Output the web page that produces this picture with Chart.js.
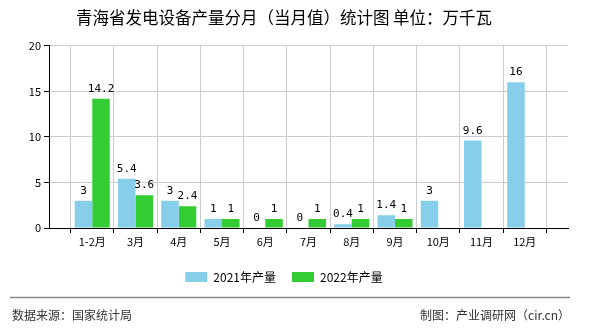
<!DOCTYPE html>
<html>
<head>
<meta charset="utf-8">
<script src="https://cdn.jsdelivr.net/npm/chart.js@4.4.0/dist/chart.umd.min.js"></script>
<style>
  html, body { margin: 0; padding: 0; background: #fff; }
  #wrap { width: 590px; height: 330px; position: relative; }
</style>
</head>
<body>
<div id="wrap"><canvas id="chart" width="590" height="330"></canvas></div>
<script>
// Data
const months = ['1-2月', '3月', '4月', '5月', '6月', '7月', '8月', '9月', '10月', '11月', '12月'];
const output2021 = [3, 5.4, 3, 1, 0, 0, 0.4, 1.4, 3, 9.6, 16];
const output2022 = [14.2, 3.6, 2.4, 1, 1, 1, 1, 1, null, null, null];
const yTicks = [0, 5, 10, 15, 20];

const cjk = "'Noto Sans CJK SC', 'Noto Sans', sans-serif";

// empty slot at both ends so the months sit on the gridlines
const labels = [''].concat(months, ['']);
const pad = arr => [null].concat(arr, [null]);

// value labels above bars
const valueLabels = {
    id: 'valueLabels',
    afterDatasetsDraw(chart) {
        const ctx = chart.ctx;
        ctx.save();
        ctx.font = "11px 'DejaVu Sans Mono', monospace";
        ctx.fillStyle = '#000';
        ctx.textAlign = 'center';
        ctx.textBaseline = 'alphabetic';
        chart.data.datasets.forEach((ds, i) => {
            chart.getDatasetMeta(i).data.forEach((bar, j) => {
                const v = ds.data[j];
                if (v === null || v === undefined) return;
                ctx.fillText(String(v), bar.x, bar.y - 7);
            });
        });
        ctx.restore();
    }
};

// footer line and source texts
const footer = {
    id: 'footer',
    afterDraw(chart) {
        const ctx = chart.ctx;
        ctx.save();
        ctx.strokeStyle = '#888';
        ctx.lineWidth = 1.5;
        ctx.beginPath();
        ctx.moveTo(10, 297.5);
        ctx.lineTo(570, 297.5);
        ctx.stroke();
        ctx.font = '12px ' + cjk;
        ctx.fillStyle = '#333';
        ctx.textBaseline = 'middle';
        ctx.textAlign = 'left';
        ctx.fillText('数据来源：国家统计局', 12, 315);
        ctx.textAlign = 'right';
        ctx.fillText('制图：产业调研网（cir.cn）', 570, 315);
        ctx.restore();
    }
};

new Chart(document.getElementById('chart'), {
    type: 'bar',
    data: {
        labels: labels,
        datasets: [
            {
                label: '2021年产量',
                data: pad(output2021),
                backgroundColor: '#87CEEB',
                categoryPercentage: 0.81,
                barPercentage: 1
            },
            {
                label: '2022年产量',
                data: pad(output2022),
                backgroundColor: '#33CC33',
                categoryPercentage: 0.81,
                barPercentage: 1
            }
        ]
    },
    options: {
        responsive: false,
        animation: false,
        layout: { padding: { left: 0, right: 22, bottom: 37 } },
        plugins: {
            title: {
                display: true,
                text: '青海省发电设备产量分月（当月值）统计图 单位：万千瓦',
                color: '#000',
                font: { family: cjk, size: 16.5, weight: 'normal' },
                padding: { top: 8, bottom: 18 }
            },
            legend: {
                position: 'bottom',
                labels: {
                    boxWidth: 22,
                    boxHeight: 10,
                    padding: 16,
                    color: '#000',
                    font: { family: cjk, size: 12 }
                }
            },
            tooltip: { enabled: false }
        },
        scales: {
            x: {
                offset: false,
                grid: { color: '#ccc', tickColor: '#000', tickLength: 5, drawTicks: true },
                border: { color: '#000' },
                ticks: {
                    color: '#000',
                    font: { family: cjk, size: 11 },
                    maxRotation: 0,
                    autoSkip: false,
                    padding: 2
                },
                afterFit(scale) { scale.height = 27; }
            },
            y: {
                min: 0,
                max: 20,
                afterBuildTicks(scale) { scale.ticks = yTicks.map(v => ({ value: v })); },
                grid: { color: '#ccc', tickColor: '#000', tickLength: 5 },
                border: { color: '#000' },
                ticks: {
                    color: '#000',
                    font: { family: cjk, size: 11 },
                    padding: 3
                },
                afterFit(scale) { scale.width = 49; }
            }
        }
    },
    plugins: [valueLabels, footer]
});
</script>
</body>
</html>
